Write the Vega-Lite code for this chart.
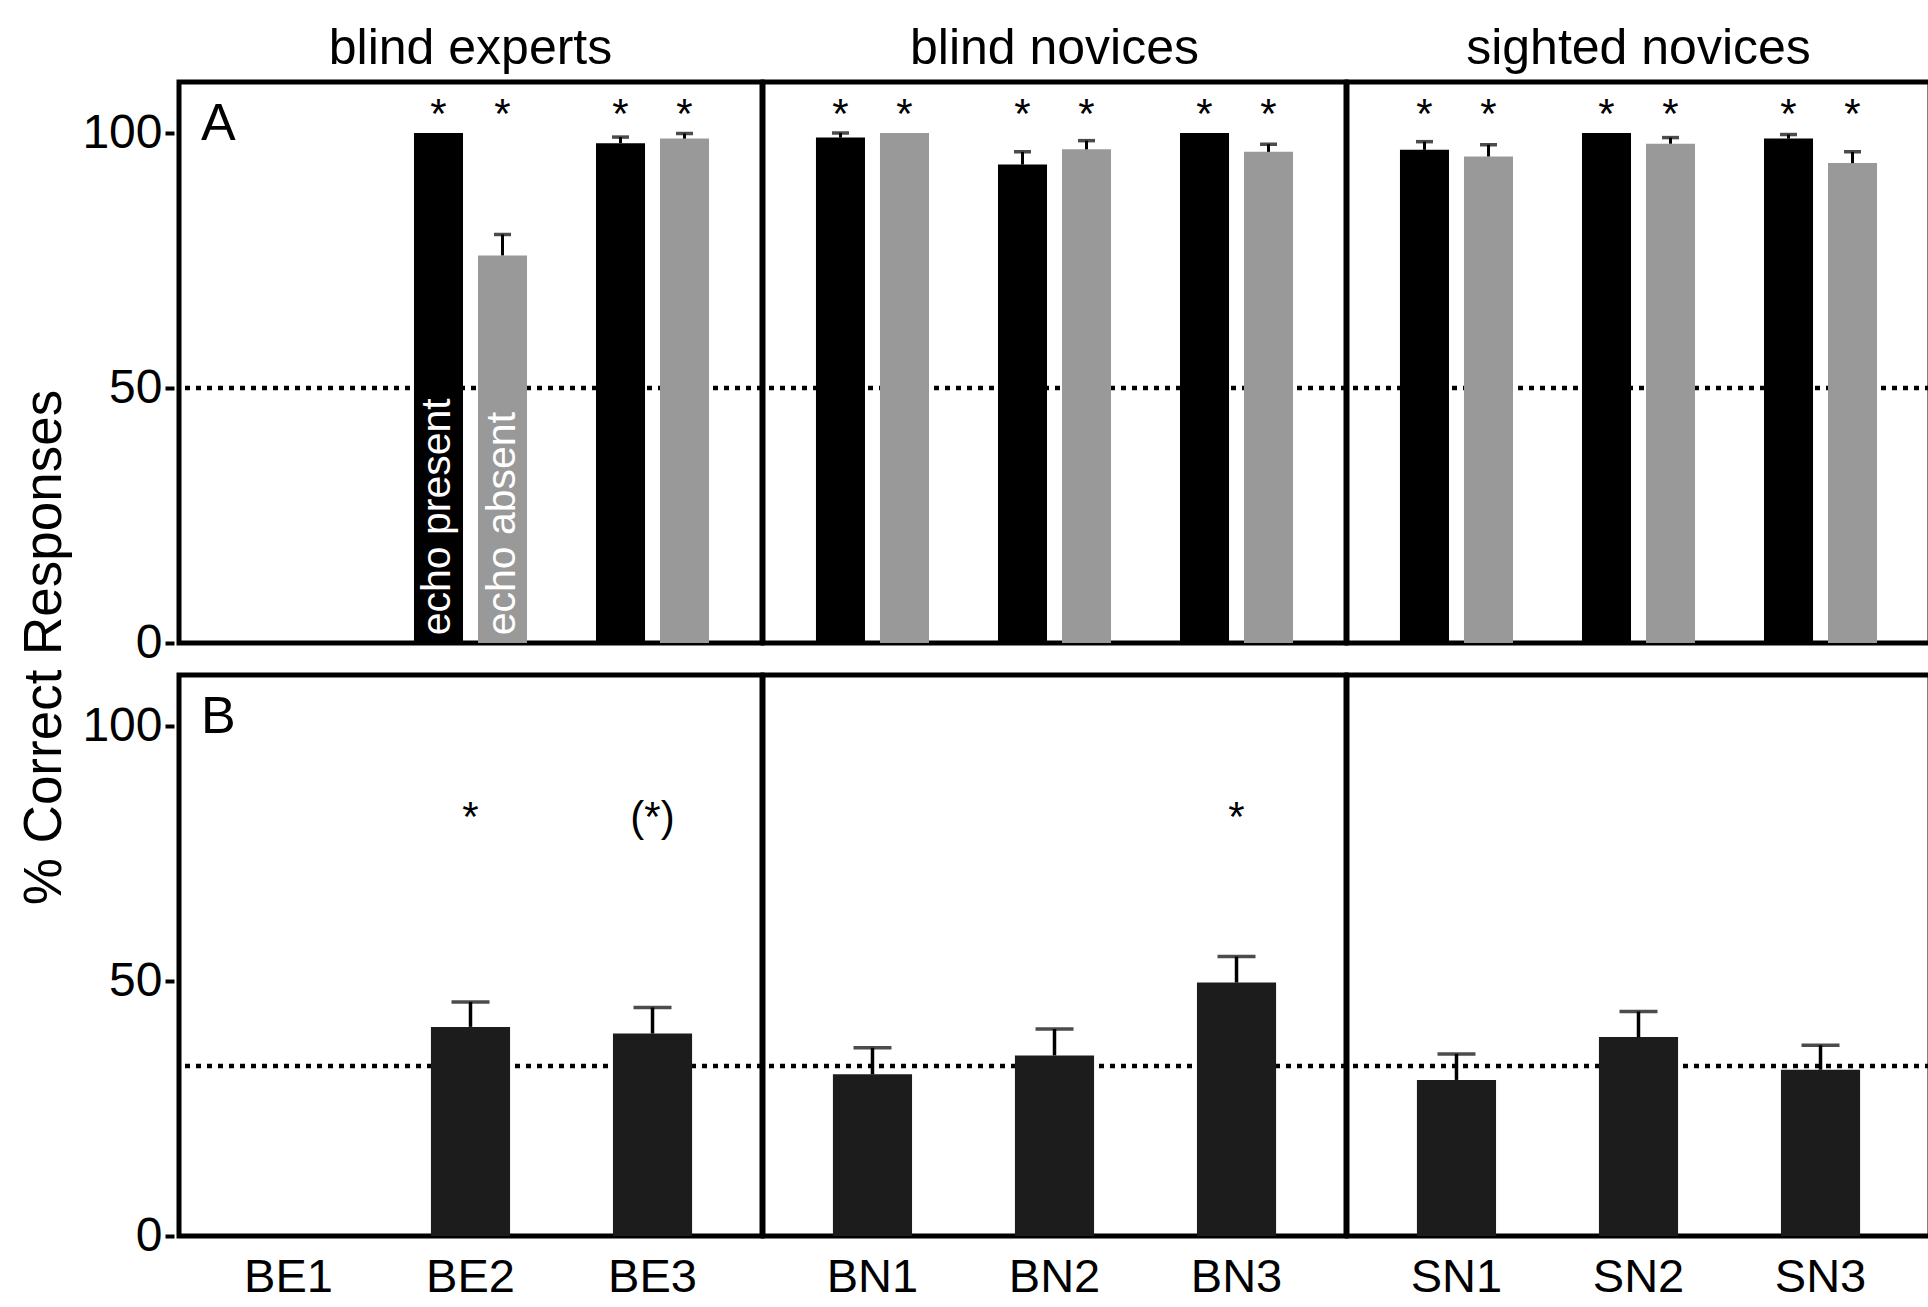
{
  "$schema": "https://vega.github.io/schema/vega-lite/v6.json",
  "background": "white",
  "padding": {"left": 18, "top": 24, "right": 0, "bottom": 0},
  "config": {
    "font": "Liberation Sans",
    "view": {"stroke": "#000000", "strokeWidth": 5},
    "axis": {"labelFont": "Liberation Sans", "titleFont": "Liberation Sans", "labelColor": "#000000", "titleColor": "#000000", "domain": false, "grid": false},
    "header": {"labelFont": "Liberation Sans", "labelColor": "#000000"}
  },
  "data": {"values": [
    {"panel": "A", "kind": "ref", "group": "blind experts", "ref": 50},
    {"panel": "A", "kind": "ref", "group": "blind novices", "ref": 50},
    {"panel": "A", "kind": "ref", "group": "sighted novices", "ref": 50},
    {"panel": "A", "kind": "letter", "group": "blind experts", "subject": "BE1", "label": "A"},
    {"panel": "A", "kind": "bar", "group": "blind experts", "subject": "BE2", "cond": "echo present", "value": 100, "hi": null, "label": "*", "note": "echo present"},
    {"panel": "A", "kind": "bar", "group": "blind experts", "subject": "BE2", "cond": "echo absent", "value": 76, "hi": 80.1, "label": "*", "note": "echo absent"},
    {"panel": "A", "kind": "bar", "group": "blind experts", "subject": "BE3", "cond": "echo present", "value": 98, "hi": 99.2, "label": "*"},
    {"panel": "A", "kind": "bar", "group": "blind experts", "subject": "BE3", "cond": "echo absent", "value": 98.9, "hi": 99.9, "label": "*"},
    {"panel": "A", "kind": "bar", "group": "blind novices", "subject": "BN1", "cond": "echo present", "value": 99.1, "hi": 100, "label": "*"},
    {"panel": "A", "kind": "bar", "group": "blind novices", "subject": "BN1", "cond": "echo absent", "value": 100, "hi": null, "label": "*"},
    {"panel": "A", "kind": "bar", "group": "blind novices", "subject": "BN2", "cond": "echo present", "value": 93.8, "hi": 96.3, "label": "*"},
    {"panel": "A", "kind": "bar", "group": "blind novices", "subject": "BN2", "cond": "echo absent", "value": 96.8, "hi": 98.5, "label": "*"},
    {"panel": "A", "kind": "bar", "group": "blind novices", "subject": "BN3", "cond": "echo present", "value": 100, "hi": null, "label": "*"},
    {"panel": "A", "kind": "bar", "group": "blind novices", "subject": "BN3", "cond": "echo absent", "value": 96.3, "hi": 97.8, "label": "*"},
    {"panel": "A", "kind": "bar", "group": "sighted novices", "subject": "SN1", "cond": "echo present", "value": 96.7, "hi": 98.3, "label": "*"},
    {"panel": "A", "kind": "bar", "group": "sighted novices", "subject": "SN1", "cond": "echo absent", "value": 95.4, "hi": 97.7, "label": "*"},
    {"panel": "A", "kind": "bar", "group": "sighted novices", "subject": "SN2", "cond": "echo present", "value": 100, "hi": null, "label": "*"},
    {"panel": "A", "kind": "bar", "group": "sighted novices", "subject": "SN2", "cond": "echo absent", "value": 97.9, "hi": 99.1, "label": "*"},
    {"panel": "A", "kind": "bar", "group": "sighted novices", "subject": "SN3", "cond": "echo present", "value": 98.9, "hi": 99.7, "label": "*"},
    {"panel": "A", "kind": "bar", "group": "sighted novices", "subject": "SN3", "cond": "echo absent", "value": 94.1, "hi": 96.3, "label": "*"},
    {"panel": "B", "kind": "ref", "group": "blind experts", "ref": 33.33},
    {"panel": "B", "kind": "ref", "group": "blind novices", "ref": 33.33},
    {"panel": "B", "kind": "ref", "group": "sighted novices", "ref": 33.33},
    {"panel": "B", "kind": "letter", "group": "blind experts", "subject": "BE1", "label": "B"},
    {"panel": "B", "kind": "bar", "group": "blind experts", "subject": "BE2", "value": 41.0, "hi": 45.9, "label": "*"},
    {"panel": "B", "kind": "bar", "group": "blind experts", "subject": "BE3", "value": 39.7, "hi": 44.8, "label": "(*)"},
    {"panel": "B", "kind": "bar", "group": "blind novices", "subject": "BN1", "value": 31.7, "hi": 36.9, "label": null},
    {"panel": "B", "kind": "bar", "group": "blind novices", "subject": "BN2", "value": 35.4, "hi": 40.6, "label": null},
    {"panel": "B", "kind": "bar", "group": "blind novices", "subject": "BN3", "value": 49.7, "hi": 54.8, "label": "*"},
    {"panel": "B", "kind": "bar", "group": "sighted novices", "subject": "SN1", "value": 30.6, "hi": 35.7, "label": null},
    {"panel": "B", "kind": "bar", "group": "sighted novices", "subject": "SN2", "value": 39.0, "hi": 44.0, "label": null},
    {"panel": "B", "kind": "bar", "group": "sighted novices", "subject": "SN3", "value": 32.6, "hi": 37.4, "label": null}
  ]},
  "spacing": 9,
  "hconcat": [
    {
      "width": 1,
      "height": 1130,
      "view": {"stroke": null},
      "transform": [{"filter": "datum.kind == 'ref' && datum.panel == 'A'"}],
      "mark": {"type": "rule", "strokeWidth": 0, "opacity": 0},
      "encoding": {
        "y": {"field": "ref", "type": "quantitative", "scale": {"domain": [0, 110], "nice": false},
          "axis": {"title": "% Correct Responses", "labels": false, "ticks": false, "domain": false, "titleFontSize": 53, "titleFontWeight": "normal", "titlePadding": 0}}
      }
    },
    {
      "spacing": 5,
      "vconcat": [
        {
          "transform": [{"filter": "datum.panel == 'A'"}],
          "facet": {"column": {"field": "group", "type": "nominal", "header": {"title": null, "labelFontSize": 50, "labelPadding": 5}}},
          "spacing": -9,
          "resolve": {"scale": {"x": "independent", "xOffset": "independent"}},
          "spec": {
            "width": 583,
            "height": 561,
            "layer": [
              {
                "transform": [{"filter": "datum.kind == 'ref'"}],
                "mark": {"type": "rule", "strokeDash": [5, 6], "strokeWidth": 4.5, "color": "#000000"},
                "encoding": {
                  "y": {"field": "ref", "type": "quantitative", "scale": {"domain": [0, 110], "nice": false},
                    "axis": {"title": null, "values": [0, 50, 100], "tickSize": 9, "tickWidth": 4, "tickColor": "#000000", "labelFontSize": 48, "labelPadding": 3}}
                }
              },
              {
                "transform": [{"filter": "datum.kind == 'bar'"}],
                "mark": {"type": "bar"},
                "encoding": {
                  "x": {"field": "subject", "type": "nominal", "axis": null, "scale": {"paddingInner": 0.379, "paddingOuter": 0.291}},
                  "xOffset": {"field": "cond", "type": "nominal", "scale": {"domain": ["echo present", "echo absent"], "paddingInner": 0.234, "paddingOuter": 0}},
                  "y": {"field": "value", "type": "quantitative", "title": null, "scale": {"domain": [0, 110], "nice": false}},
                  "color": {"field": "cond", "type": "nominal", "scale": {"domain": ["echo present", "echo absent"], "range": ["#000000", "#999999"]}, "legend": null}
                }
              },
              {
                "transform": [{"filter": "datum.kind == 'bar' && datum.hi != null"}],
                "mark": {"type": "rule", "strokeWidth": 3, "color": "#000000"},
                "encoding": {
                  "x": {"field": "subject", "type": "nominal", "axis": null},
                  "xOffset": {"field": "cond", "type": "nominal"},
                  "y": {"field": "value", "type": "quantitative", "title": null},
                  "y2": {"field": "hi"}
                }
              },
              {
                "transform": [{"filter": "datum.kind == 'bar' && datum.hi != null"}],
                "mark": {"type": "tick", "size": 17, "thickness": 3.5, "color": "#000000"},
                "encoding": {
                  "x": {"field": "subject", "type": "nominal", "axis": null},
                  "xOffset": {"field": "cond", "type": "nominal"},
                  "y": {"field": "hi", "type": "quantitative", "title": null}
                }
              },
              {
                "transform": [{"filter": "datum.kind == 'bar' && datum.label != null"}],
                "mark": {"type": "text", "fontSize": 42, "baseline": "alphabetic", "align": "center", "color": "#000000"},
                "encoding": {
                  "x": {"field": "subject", "type": "nominal", "axis": null},
                  "xOffset": {"field": "cond", "type": "nominal"},
                  "y": {"datum": 101, "type": "quantitative", "title": null},
                  "text": {"field": "label"}
                }
              },
              {
                "transform": [{"filter": "datum.note != null"}],
                "mark": {"type": "text", "fontSize": 41, "angle": 270, "align": "left", "baseline": "middle", "color": "#ffffff"},
                "encoding": {
                  "x": {"field": "subject", "type": "nominal", "axis": null},
                  "xOffset": {"field": "cond", "type": "nominal"},
                  "y": {"datum": 1.5, "type": "quantitative", "title": null},
                  "text": {"field": "note"}
                }
              },
              {
                "transform": [{"filter": "datum.kind == 'letter'"}],
                "mark": {"type": "text", "fontSize": 52, "align": "left", "baseline": "alphabetic", "dx": -31, "color": "#000000"},
                "encoding": {
                  "x": {"field": "subject", "type": "nominal", "axis": null, "bandPosition": 0},
                  "y": {"datum": 98.7, "type": "quantitative", "title": null},
                  "text": {"field": "label"}
                }
              }
            ]
          }
        },
        {
          "transform": [{"filter": "datum.panel == 'B'"}],
          "facet": {"column": {"field": "group", "type": "nominal", "header": {"title": null, "labels": false}}},
          "spacing": -9,
          "resolve": {"scale": {"x": "independent"}},
          "spec": {
            "width": 583,
            "height": 561,
            "layer": [
              {
                "transform": [{"filter": "datum.kind == 'ref'"}],
                "mark": {"type": "rule", "strokeDash": [5, 6], "strokeWidth": 4.5, "color": "#000000"},
                "encoding": {
                  "y": {"field": "ref", "type": "quantitative", "scale": {"domain": [0, 110], "nice": false},
                    "axis": {"title": null, "values": [0, 50, 100], "tickSize": 9, "tickWidth": 4, "tickColor": "#000000", "labelFontSize": 48, "labelPadding": 3}}
                }
              },
              {
                "transform": [{"filter": "datum.kind == 'bar'"}],
                "mark": {"type": "bar", "color": "#1c1c1c", "width": {"band": 0.7}},
                "encoding": {
                  "x": {"field": "subject", "type": "nominal", "scale": {"paddingInner": 0.379, "paddingOuter": 0.291},
                    "axis": {"title": null, "domain": false, "ticks": false, "labelFontSize": 47, "labelPadding": 18, "labelAngle": 0}},
                  "y": {"field": "value", "type": "quantitative", "title": null, "scale": {"domain": [0, 110], "nice": false}}
                }
              },
              {
                "transform": [{"filter": "datum.kind == 'bar' && datum.hi != null"}],
                "mark": {"type": "rule", "strokeWidth": 3.5, "color": "#000000"},
                "encoding": {
                  "x": {"field": "subject", "type": "nominal", "title": null},
                  "y": {"field": "value", "type": "quantitative", "title": null},
                  "y2": {"field": "hi"}
                }
              },
              {
                "transform": [{"filter": "datum.kind == 'bar' && datum.hi != null"}],
                "mark": {"type": "tick", "size": 38, "thickness": 3.5, "color": "#000000"},
                "encoding": {
                  "x": {"field": "subject", "type": "nominal", "title": null},
                  "y": {"field": "hi", "type": "quantitative", "title": null}
                }
              },
              {
                "transform": [{"filter": "datum.kind == 'bar' && datum.label != null"}],
                "mark": {"type": "text", "fontSize": 42, "baseline": "alphabetic", "align": "center", "color": "#000000"},
                "encoding": {
                  "x": {"field": "subject", "type": "nominal", "title": null},
                  "y": {"datum": 79.5, "type": "quantitative", "title": null},
                  "text": {"field": "label"}
                }
              },
              {
                "transform": [{"filter": "datum.kind == 'letter'"}],
                "mark": {"type": "text", "fontSize": 52, "align": "left", "baseline": "alphabetic", "dx": -31, "color": "#000000"},
                "encoding": {
                  "x": {"field": "subject", "type": "nominal", "title": null, "bandPosition": 0},
                  "y": {"datum": 98.7, "type": "quantitative", "title": null},
                  "text": {"field": "label"}
                }
              }
            ]
          }
        }
      ]
    }
  ]
}
